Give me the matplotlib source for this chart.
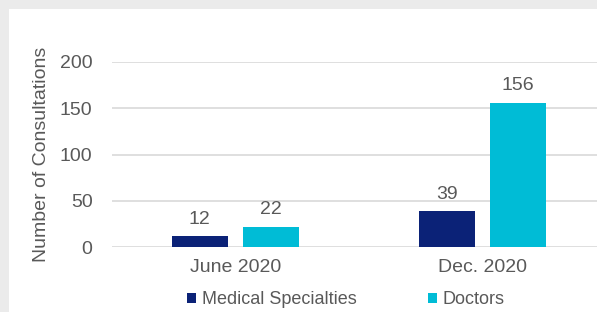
import matplotlib
matplotlib.use("Agg")
import matplotlib.pyplot as plt
import numpy as np

categories = ["June 2020", "Dec. 2020"]
series_names = ["Medical Specialties", "Doctors"]
medical = [12, 39]
doctors = [22, 156]
yticks = [0, 50, 100, 150, 200]

colors = ["#0b2277", "#00bcd6"]
text_col = "#595959"
plt.rcParams['font.family'] = ['Liberation Sans', 'DejaVu Sans']

W, H = 597, 312
fig = plt.figure(figsize=(W/100, H/100), dpi=100, facecolor="#ebebeb")
# white panel
fig.patches.append(plt.Rectangle((9/W, 0), 1, 1 - 9/H, transform=fig.transFigure,
                                 facecolor="white", edgecolor="none", zorder=-5))

ax = fig.add_axes([112/W, (H-247)/H, 494/W, 185/H])
ax.set_facecolor("none")
x = np.arange(len(categories))
bw = 0.227
off = 0.1445
b1 = ax.bar(x - off, medical, bw, color=colors[0], label=series_names[0], zorder=3)
b2 = ax.bar(x + off, doctors, bw, color=colors[1], label=series_names[1], zorder=3)
for bars in (b1, b2):
    for r in bars:
        ax.annotate(f"{int(r.get_height())}", (r.get_x() + r.get_width()/2, r.get_height()),
                    xytext=(0, 6), textcoords="offset points", ha="center", va="bottom",
                    fontsize=14, color=text_col)

ax.set_xlim(-0.5, 1.5)
ax.set_ylim(0, 200)
ax.set_yticks(yticks)
ax.set_xticks(x)
ax.set_xticklabels(categories)
ax.tick_params(axis="both", length=0, labelsize=14, labelcolor=text_col)
ax.tick_params(axis="y", pad=14)
ax.tick_params(axis="x", pad=9)
ax.grid(axis="y", color="#d9d9d9", linewidth=1.2, zorder=0)
for s in ax.spines.values():
    s.set_visible(False)
ax.set_ylabel("Number of Consultations", fontsize=14, color=text_col, labelpad=7)

leg = fig.legend(handles=[b1, b2], labels=series_names, loc="center",
                 bbox_to_anchor=(346/W, 1 - 300/H), ncol=2, frameon=False,
                 fontsize=13, handlelength=0.5, handleheight=0.5, handletextpad=0.35,
                 columnspacing=3.9, labelcolor=text_col, borderpad=0, borderaxespad=0)

fig.savefig("out.png", dpi=100, facecolor=fig.get_facecolor())
